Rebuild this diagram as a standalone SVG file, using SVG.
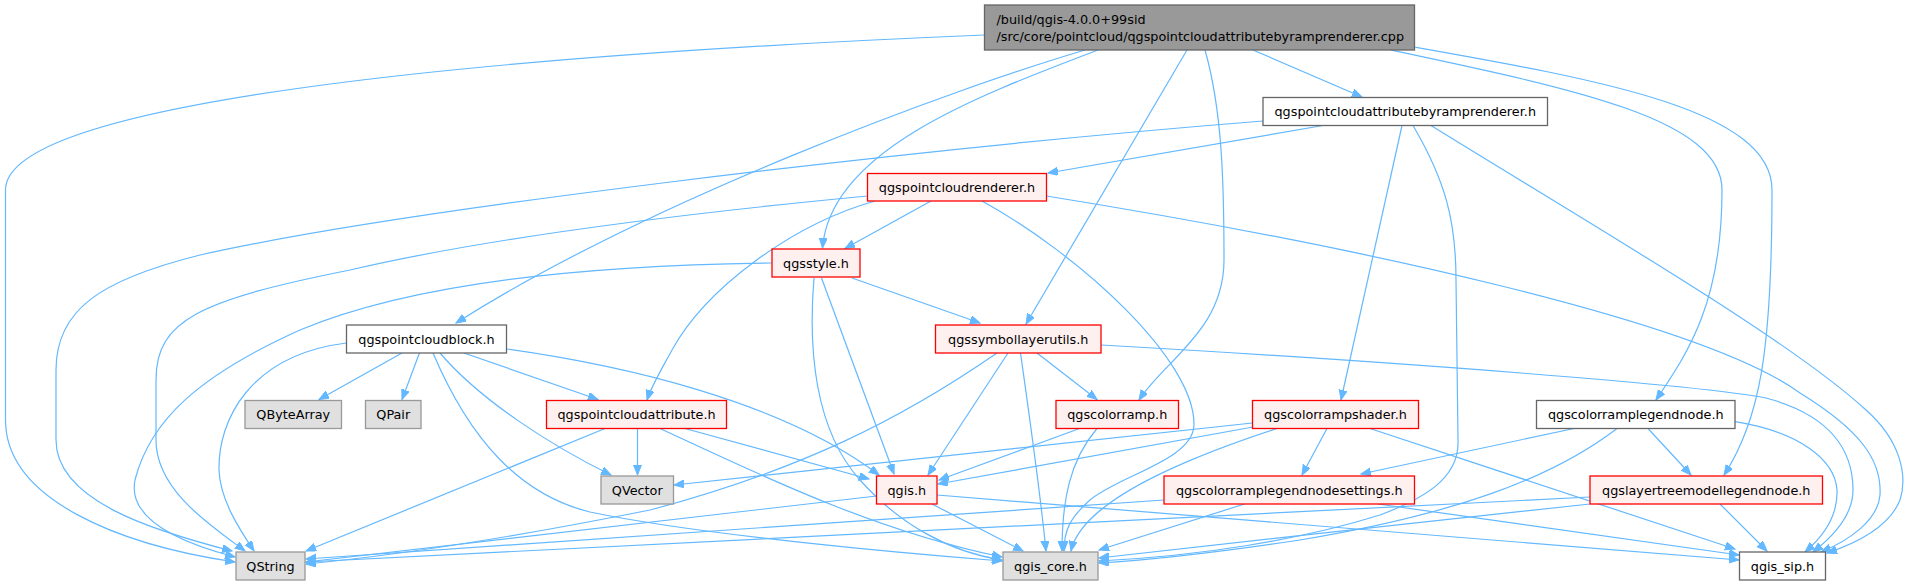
<svg xmlns="http://www.w3.org/2000/svg" width="1913" height="585" viewBox="0 0 1913 585">
<style>
.e{fill:none;stroke:#63b8ff;stroke-width:1.2;marker-end:url(#a)}
.t{font-family:"DejaVu Sans",sans-serif;font-size:12.8px;fill:#000;text-anchor:middle}
.tl{font-family:"DejaVu Sans",sans-serif;font-size:12.8px;fill:#000;text-anchor:start}
.red rect{fill:#fff0f0;stroke:#ff0000;stroke-width:1.3}
.grey rect{fill:#e0e0e0;stroke:#999999;stroke-width:1.3}
.white rect{fill:#ffffff;stroke:#666666;stroke-width:1.3}
.main rect{fill:#999999;stroke:#666666;stroke-width:1.3}
</style>
<defs>
<marker id="a" markerWidth="12" markerHeight="10" refX="10" refY="4" orient="auto" markerUnits="userSpaceOnUse"><path d="M0,0 L10,4 L0,8 z" fill="#63b8ff" stroke="#63b8ff" stroke-width="1"/></marker>
</defs>
<rect width="1913" height="585" fill="#ffffff"/>
<g id="edges">
<path class="e" d="M984.5,35 C500,55 5.5,100 5.5,190 L5.5,420 C5.5,500 120,545 235,562"/>
<path class="e" d="M1085,50 C950,90 650,200 456,323"/>
<path class="e" d="M1098,50 C980,95 830,150 822.5,248"/>
<path class="e" d="M1187,50 L1026,324"/>
<path class="e" d="M1205,50 C1222,110 1224,180 1224,260 C1224,330 1165,360 1139,400"/>
<path class="e" d="M1253,50 L1362,97"/>
<path class="e" d="M1391,50 C1580,90 1722,120 1722,190 C1722,300 1690,350 1656,400"/>
<path class="e" d="M1414,47 C1600,80 1772,110 1772,190 C1772,350 1760,420 1724,475"/>
<path class="e" d="M1263,121 C900,150 400,210 200,255 C100,280 56,310 56,370 L56,440 C56,500 150,530 232,551"/>
<path class="e" d="M1323,125.5 L1048,173"/>
<path class="e" d="M1402,125.5 L1341,400"/>
<path class="e" d="M1413,125.5 C1445,180 1456,220 1456,280 L1458,440 C1460,480 1420,500 1380,515 C1300,540 1200,556 1099,561"/>
<path class="e" d="M1431,125.5 C1600,230 1790,340 1866,410 C1900,440 1908,475 1900,500 C1890,525 1860,542 1827,553"/>
<path class="e" d="M867.5,196 C700,212 500,235 350,270 C200,300 156,320 156,380 L156,440 C156,490 210,525 245,551"/>
<path class="e" d="M931,201 L845,248.5"/>
<path class="e" d="M875,201 C790,225 705,290 672,350 C660,372 652,385 647,400"/>
<path class="e" d="M982,201 C1080,255 1195,360 1194,425 C1193,460 1120,475 1090,500 C1070,518 1064,530 1064,551"/>
<path class="e" d="M1046.5,196 C1350,245 1700,320 1800,393 C1860,430 1882,460 1880,495 C1878,520 1850,540 1821,552"/>
<path class="e" d="M346.5,343 C250,355 218,420 219,470 C220,500 240,530 254,551"/>
<path class="e" d="M402,353 L319,399.5"/>
<path class="e" d="M419.5,353 L402,399.5"/>
<path class="e" d="M464,353 L598,399.5"/>
<path class="e" d="M440,353 C480,400 550,445 611,475"/>
<path class="e" d="M433,353 C470,440 520,495 590,512 C700,535 900,553 1002,561"/>
<path class="e" d="M506.5,349 C620,365 780,400 879,475"/>
<path class="e" d="M997,353 C900,420 800,470 650,510 C500,540 400,555 306,564"/>
<path class="e" d="M1008,353 L928,475"/>
<path class="e" d="M1037,353 L1097,399.5"/>
<path class="e" d="M1020.5,353 C1030,420 1040,490 1046,551"/>
<path class="e" d="M1101,345 C1400,362 1700,385 1766,398 C1830,415 1853,450 1853,490 C1853,515 1835,535 1813,552"/>
<path class="e" d="M605,428.5 L306,551"/>
<path class="e" d="M637.5,428.5 L637.5,475"/>
<path class="e" d="M685,428.5 L869,479"/>
<path class="e" d="M660,428.5 C750,470 870,530 1002,557"/>
<path class="e" d="M1079.5,428.5 L939,480"/>
<path class="e" d="M1097,428.5 C1070,460 1062,500 1062,551"/>
<path class="e" d="M1252.5,423 L674,485"/>
<path class="e" d="M1253,427 L938,484"/>
<path class="e" d="M1327,428.5 L1302,475"/>
<path class="e" d="M1277,428.5 C1150,470 1080,510 1071,551"/>
<path class="e" d="M1370,428.5 L1735,549"/>
<path class="e" d="M1574,428.5 L1361,474"/>
<path class="e" d="M1617,428.5 C1550,480 1450,515 1300,540 C1200,555 1150,560 1099,563"/>
<path class="e" d="M1648,428.5 L1691,475"/>
<path class="e" d="M1735,421.7 C1800,432 1835,460 1837,490 C1838,515 1825,535 1805,552"/>
<path class="e" d="M1164,500 L306,559"/>
<path class="e" d="M1244.5,504 L1099,550"/>
<path class="e" d="M1378,504 L1739,555"/>
<path class="e" d="M1590,497 L306,562"/>
<path class="e" d="M1590,504 C1450,520 1250,540 1099,558"/>
<path class="e" d="M1720,504 L1767,551"/>
<path class="e" d="M876.5,496 L306,562"/>
<path class="e" d="M932,504 L1023,551"/>
<path class="e" d="M937,495 L1739,560"/>
<path class="e" d="M772,263 C600,265 420,280 300,330 C200,375 150,420 135,480 C128,515 170,540 235,557"/>
<path class="e" d="M852,278 L980,323"/>
<path class="e" d="M821.5,278 L894,474"/>
<path class="e" d="M814,278 C808,350 815,430 860,480 C900,525 950,552 1002,560"/>
</g>
<g id="n_main" class="main"><rect x="984.5" y="5" width="430" height="45"/><text class="tl" x="996.5" y="23.5">/build/qgis-4.0.0+99sid</text><text class="tl" x="996.5" y="41">/src/core/pointcloud/qgspointcloudattributebyramprenderer.cpp</text></g>
<g id="n_byramp" class="white"><rect x="1263" y="97.5" width="284.5" height="28"/><text class="t" x="1405.25" y="116">qgspointcloudattributebyramprenderer.h</text></g>
<g id="n_renderer" class="red"><rect x="867.5" y="173.5" width="179" height="27.5"/><text class="t" x="957" y="192">qgspointcloudrenderer.h</text></g>
<g id="n_style" class="red"><rect x="772" y="249" width="88" height="28"/><text class="t" x="816" y="267.5">qgsstyle.h</text></g>
<g id="n_pcblock" class="white"><rect x="346.5" y="325" width="160" height="28"/><text class="t" x="426.5" y="343.5">qgspointcloudblock.h</text></g>
<g id="n_symbol" class="red"><rect x="935.5" y="325" width="165.5" height="28"/><text class="t" x="1018.25" y="343.5">qgssymbollayerutils.h</text></g>
<g id="n_qbytearray" class="grey"><rect x="245" y="400.5" width="96.5" height="28"/><text class="t" x="293.25" y="419">QByteArray</text></g>
<g id="n_qpair" class="grey"><rect x="365.5" y="400.5" width="55.5" height="28"/><text class="t" x="393.25" y="419">QPair</text></g>
<g id="n_pcattr" class="red"><rect x="546.5" y="400.5" width="180" height="28"/><text class="t" x="636.5" y="419">qgspointcloudattribute.h</text></g>
<g id="n_colorramp" class="red"><rect x="1056" y="400.5" width="122.5" height="28"/><text class="t" x="1117.25" y="419">qgscolorramp.h</text></g>
<g id="n_shader" class="red"><rect x="1252.5" y="400.5" width="166" height="28"/><text class="t" x="1335.5" y="419">qgscolorrampshader.h</text></g>
<g id="n_legendnode" class="white"><rect x="1536.5" y="400.5" width="198.5" height="28"/><text class="t" x="1635.75" y="419">qgscolorramplegendnode.h</text></g>
<g id="n_qvector" class="grey"><rect x="601" y="476" width="72.5" height="28"/><text class="t" x="637.25" y="494.5">QVector</text></g>
<g id="n_qgis" class="red"><rect x="876.5" y="476" width="60.5" height="28"/><text class="t" x="906.75" y="494.5">qgis.h</text></g>
<g id="n_settings" class="red"><rect x="1164" y="476" width="250.5" height="28"/><text class="t" x="1289.25" y="494.5">qgscolorramplegendnodesettings.h</text></g>
<g id="n_layertree" class="red"><rect x="1590" y="476" width="232.5" height="28"/><text class="t" x="1706.25" y="494.5">qgslayertreemodellegendnode.h</text></g>
<g id="n_qstring" class="grey"><rect x="236" y="552" width="69" height="28"/><text class="t" x="270.5" y="570.5">QString</text></g>
<g id="n_qgiscore" class="grey"><rect x="1003" y="552" width="95" height="28"/><text class="t" x="1050.5" y="570.5">qgis_core.h</text></g>
<g id="n_qgissip" class="white"><rect x="1739.5" y="552" width="86" height="28"/><text class="t" x="1782.5" y="570.5">qgis_sip.h</text></g>
</svg>
